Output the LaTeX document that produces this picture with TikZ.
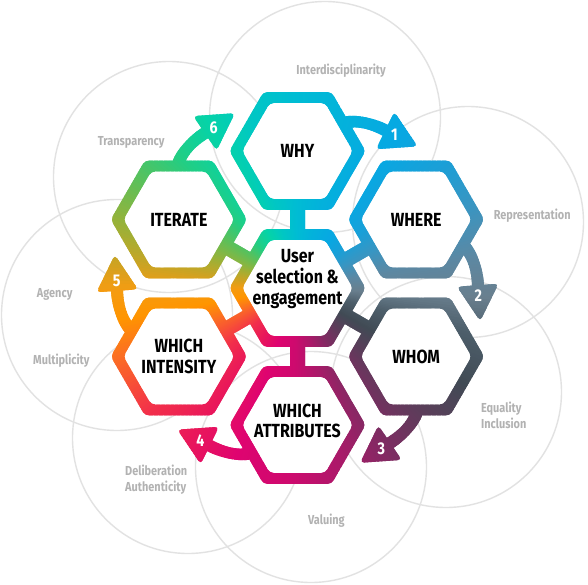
\documentclass[tikz,border=0pt]{standalone}
\usepackage{fontspec}
\setmainfont{Fira Sans}[FakeStretch=0.84]
\usetikzlibrary{calc}

\definecolor{circgrey}{HTML}{E2E2E2}
\definecolor{labelgrey}{HTML}{B2B2B2}
% colour stops round the centre
\definecolor{s00}{HTML}{F49C12}
\definecolor{s01}{HTML}{FF9500}
\definecolor{s02}{HTML}{FB6A26}
\definecolor{s03}{HTML}{F22F4B}
\definecolor{s04}{HTML}{E9175B}
\definecolor{s05}{HTML}{DF0470}
\definecolor{s06}{HTML}{CD0A6E}
\definecolor{s07}{HTML}{AA1A69}
\definecolor{s08}{HTML}{7C2D62}
\definecolor{s09}{HTML}{5C3D5A}
\definecolor{s10}{HTML}{414B55}
\definecolor{s11}{HTML}{4D5E6A}
\definecolor{s12}{HTML}{697F8E}
\definecolor{s13}{HTML}{5C88A3}
\definecolor{s14}{HTML}{3A95C1}
\definecolor{s15}{HTML}{1B9FD7}
\definecolor{s16}{HTML}{07A8E3}
\definecolor{s17}{HTML}{03B2DB}
\definecolor{s18}{HTML}{00BCD4}
\definecolor{s19}{HTML}{00C7C4}
\definecolor{s20}{HTML}{05D3A9}
\definecolor{s21}{HTML}{22CE84}
\definecolor{s22}{HTML}{5CC05A}
\definecolor{s23}{HTML}{98B239}
\definecolor{s24}{HTML}{CDA322}

\tikzset{
  circ/.style={draw=circgrey, line width=1.4pt},
  hexlabel/.style={font=\bfseries\fontsize{19}{20.7}\selectfont, align=center},
  greylabel/.style={font=\bfseries\fontsize{13}{15.8}\selectfont, text=labelgrey, align=left},
  numlabel/.style={font=\bfseries\fontsize{17}{17}\selectfont, text=white},
}

\begin{document}
\begin{tikzpicture}[x=1pt, y=1pt]
    \useasboundingbox (-297.5,-296) rectangle (290.5,288);
    \fill[white] (-297.5,-296) rectangle (290.5,288);

    % hexagon centres
    \coordinate (c) at (0,0);
    \coordinate (why) at (90:137);
    \coordinate (where) at (30:137);
    \coordinate (whom) at (-30:137);
    \coordinate (attr) at (-90:137);
    \coordinate (inten) at (-150:137);
    \coordinate (iter) at (150:137);

    % grey circles
    \foreach \x/\y in {27.5/171, -128.5/111, 170.5/66, -180.5/-27, 148.5/-104, -109.5/-150, 13.5/-179}
        \draw[circ] (\x,\y) circle (115.5);

    % white faces
    \foreach \h in {c,why,where,whom,attr,inten,iter}
        \fill[white, rounded corners=4pt] (\h) ++(0:68) -- ++(120:68) -- ++(180:68) -- ++(240:68) -- ++(300:68) -- ++(0:68) -- cycle;

    % rings, bridges and arrows, coloured by angle
    \begin{scope}
        \clip[rounded corners=4pt]
            foreach \h in {c,why,where,whom,attr,inten,iter} {
                (\h) ++(0:68) -- ++(120:68) -- ++(180:68) -- ++(240:68) -- ++(300:68) -- ++(0:68) -- cycle
                (\h) ++(0:55.5) -- ++(240:55.5) -- ++(180:55.5) -- ++(120:55.5) -- ++(60:55.5) -- ++(0:55.5) -- cycle
            }
            foreach \t in {90,30,-30,-90,-150,150} {
                (\t:50) ++({\t-90}:7.5) -- ++(\t:37) -- ++({\t+90}:15) -- ++({\t+180}:37) -- cycle
            }
            foreach \k in {0,...,5} {
                ({73.82-60*\k}:165.7) .. controls ({69.33-60*\k}:173.25) and ({65.24-60*\k}:174.77) .. ({59.66-60*\k}:174.6)
                -- ({59.82-60*\k}:186.6) .. controls ({65.04-60*\k}:186.7) and ({71.3-60*\k}:183.6) .. ({75.61-60*\k}:176.4) -- cycle
                ({49.72-60*\k}:185.7) -- ({61.21-60*\k}:201.0) -- ({60.48-60*\k}:159.5) -- cycle
            };
        \foreach \a/\ca/\b/\cb in {-180/s00/-170/s01, -170/s01/-158/s02, -158/s02/-140/s03,
            -140/s03/-125/s04, -125/s04/-110/s05, -110/s05/-92/s06, -92/s06/-76/s07,
            -76/s07/-60/s08, -60/s08/-45/s09, -45/s09/-30/s10, -30/s10/-15/s11,
            -15/s11/-3/s12, -3/s12/10/s13, 10/s13/25/s14, 25/s14/40/s15, 40/s15/57/s16,
            57/s16/75/s17, 75/s17/90/s18, 90/s18/105/s19, 105/s19/118/s20, 118/s20/132/s21,
            132/s21/146/s22, 146/s22/160/s23, 160/s23/172/s24, 172/s24/180/s00}{
            \pgfmathtruncatemacro\e{\b-1}
            \foreach \t in {\a,...,\e}{
                \pgfmathsetmacro\p{100*(\t-\a)/(\b-\a)}
                \fill[\cb!\p!\ca] (c) -- ({\t-0.4}:420) -- ({\t+1.4}:420) -- cycle;
            }
        }
    \end{scope}

    % hexagon texts
    \node[hexlabel] (lc) at ($(c)+(0,9)$) {User\\selection \&\\engagement};
    \node[hexlabel] (lwhy) at (why) {WHY};
    \node[hexlabel] (lwhere) at (where) {WHERE};
    \node[hexlabel] (lwhom) at (whom) {WHOM};
    \node[hexlabel] (lattr) at ($(attr)+(0,4)$) {WHICH\\ATTRIBUTES};
    \node[hexlabel] (linten) at (inten) {WHICH\\INTENSITY};
    \node[hexlabel] (liter) at (iter) {ITERATE};

    % step numbers
    \foreach \k in {0,...,5}{
        \pgfmathtruncatemacro\n{\k+1}
        \node[numlabel] (n\n) at ({57.6-60*\k}:181) {\n};
    }

    % values
    \node[greylabel] (ginter) at (43.6,217.5) {Interdisciplinarity};
    \node[greylabel] (gtrans) at (-166.3,145.5) {Transparency};
    \node[greylabel] (grepr) at (234.7,72) {Representation};
    \node[greylabel] (gagen) at (-242.8,-6.8) {Agency};
    \node[greylabel] (gmult) at (-236.1,-73.1) {Multiplicity};
    \node[greylabel, anchor=west] (gequa) at (180.1,-127.4) {Equality\\Inclusion};
    \node[greylabel, anchor=west] (gdeli) at (-175.8,-191.8) {Deliberation\\Authenticity};
    \node[greylabel] (gvalu) at (28.9,-232.5) {Valuing};
\end{tikzpicture}
\end{document}
